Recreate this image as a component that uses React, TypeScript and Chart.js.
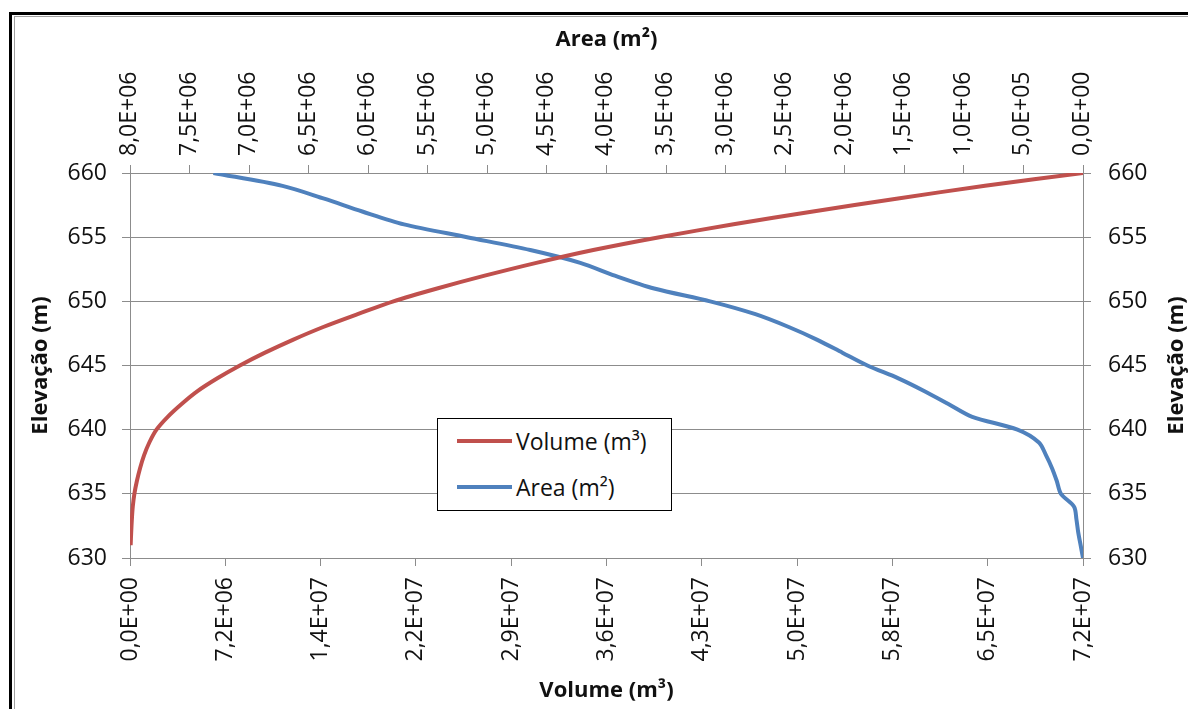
import React, { useEffect, useRef } from 'react';
import { Chart, registerables } from 'chart.js';
Chart.register(...registerables);

// ---- data ----
const areaElevations = [630, 631, 632, 633, 634, 635, 636, 637, 638, 639, 640, 641, 642, 643, 644, 645, 646, 647, 648, 649, 650, 651, 652, 653, 654, 655, 656, 657, 658, 659, 660];
const areaValues = [0, 0.02e6, 0.04e6, 0.055e6, 0.075e6, 0.185e6, 0.22e6, 0.26e6, 0.31e6, 0.37e6, 0.55e6, 0.93e6, 1.13e6, 1.33e6, 1.55e6, 1.81e6, 2.02e6, 2.23e6, 2.47e6, 2.75e6, 3.13e6, 3.6e6, 3.93e6, 4.22e6, 4.64e6, 5.17e6, 5.7e6, 6.05e6, 6.37e6, 6.72e6, 7.3e6];

const volumeElevations = [631, 632, 633, 634, 635, 636, 637, 638, 639, 640, 641, 642, 643, 644, 645, 646, 647, 648, 649, 650, 651, 652, 653, 654, 655, 656, 657, 658, 659, 660];
const volumeValues = [0.05e6, 0.09e6, 0.14e6, 0.21e6, 0.33e6, 0.52e6, 0.76e6, 1.06e6, 1.46e6, 2.0e6, 2.85e6, 3.9e6, 5.1e6, 6.6e6, 8.3e6, 10.2e6, 12.3e6, 14.6e6, 17.2e6, 19.9e6, 23.2e6, 26.8e6, 30.7e6, 35.0e6, 40.0e6, 45.6e6, 51.6e6, 57.9e6, 64.6e6, 72.0e6];

const elevationTicks = [630, 635, 640, 645, 650, 655, 660];
const volumeTicks = [0, 7.2e6, 1.44e7, 2.16e7, 2.88e7, 3.6e7, 4.32e7, 5.04e7, 5.76e7, 6.48e7, 7.2e7];
const areaTicks = [0, 5e5, 1e6, 1.5e6, 2e6, 2.5e6, 3e6, 3.5e6, 4e6, 4.5e6, 5e6, 5.5e6, 6e6, 6.5e6, 7e6, 7.5e6, 8e6];

const seriesLabels = ['Volume (m³)', 'Area (m²)'];
const seriesColors = ['#C0504D', '#4F81BD'];
const axisTitles = { volume: 'Volume (m³)', area: 'Area (m²)', elevation: 'Elevação (m)' };

function sci(v: number): string {
  if (Math.abs(v) < 1e-9) return '0,0E+00';
  let exp = Math.floor(Math.log10(Math.abs(v)) + 1e-9);
  let m = (v / Math.pow(10, exp)).toFixed(1);
  if (m === '10.0') { m = '1.0'; exp += 1; }
  return m.replace('.', ',') + 'E' + (exp < 0 ? '-' : '+') + String(Math.abs(exp)).padStart(2, '0');
}

const FONT = 'Open Sans';
const tickFont = { family: FONT, size: 23 };
const titleFont = { family: FONT, size: 22, weight: 'bold' as const };
const gridColor = '#8c8c8c';
const textColor = '#111';

const framePlugin = {
  id: 'frame',
  beforeDraw(chart: any) {
    const ctx = chart.ctx;
    ctx.save();
    ctx.fillStyle = '#fff';
    ctx.fillRect(0, 0, chart.width, chart.height);
    ctx.fillStyle = '#000';
    ctx.fillRect(9, 12, 3, chart.height - 12);
    ctx.fillRect(9, 12, chart.width - 9, 3);
    ctx.fillStyle = '#a0a0a0';
    ctx.fillRect(14, 16, 1, chart.height - 16);
    ctx.fillRect(14, 16, chart.width - 14, 1);
    ctx.restore();
  },
  afterDraw(chart: any) {
    // right-hand axis title, reading bottom-to-top like the left one
    const ctx = chart.ctx;
    const area = chart.chartArea;
    ctx.save();
    ctx.translate(1177, (area.top + area.bottom) / 2);
    ctx.rotate(-Math.PI / 2);
    ctx.font = `bold ${titleFont.size}px "${FONT}"`;
    ctx.fillStyle = textColor;
    ctx.textAlign = 'center';
    ctx.textBaseline = 'middle';
    ctx.fillText(axisTitles.elevation, 0, 0);
    ctx.restore();
  },
};

export default function App() {
  const ref = useRef<HTMLCanvasElement>(null);
  useEffect(() => {
    const chart = new Chart(ref.current!, {
      type: 'scatter',
      data: {
        datasets: [
          {
            label: seriesLabels[0],
            data: volumeValues.map((v, i) => ({ x: v, y: volumeElevations[i] })),
            xAxisID: 'x',
            yAxisID: 'y',
            showLine: true,
            borderColor: seriesColors[0],
            backgroundColor: seriesColors[0],
            borderWidth: 4,
            pointRadius: 0,
            tension: 0.3,
          },
          {
            label: seriesLabels[1],
            data: areaValues.map((v, i) => ({ x: v, y: areaElevations[i] })),
            xAxisID: 'x2',
            yAxisID: 'y',
            showLine: true,
            borderColor: seriesColors[1],
            backgroundColor: seriesColors[1],
            borderWidth: 4,
            pointRadius: 0,
            tension: 0.3,
          },
        ],
      },
      options: {
        responsive: false,
        animation: false,
        layout: { padding: { top: 16, left: 18, right: 0, bottom: 0 } },
        plugins: { legend: { display: false }, tooltip: { enabled: false } },
        scales: {
          x: {
            type: 'linear',
            position: 'bottom',
            min: 0,
            max: 7.2e7,
            afterBuildTicks: (s: any) => { s.ticks = volumeTicks.map((v) => ({ value: v })); },
            afterFit: (s: any) => { s.height = 151; },
            grid: { drawOnChartArea: false, drawTicks: true, tickLength: 8, color: gridColor },
            border: { color: gridColor },
            ticks: { minRotation: 90, maxRotation: 90, autoSkip: false, padding: 11, font: tickFont, color: textColor, callback: (v: any) => sci(Number(v)) },
            title: { display: true, text: axisTitles.volume, font: titleFont, color: textColor, padding: { top: 0, bottom: 5 } },
          },
          x2: {
            type: 'linear',
            position: 'top',
            reverse: true,
            min: 0,
            max: 8e6,
            afterBuildTicks: (s: any) => { s.ticks = areaTicks.map((v) => ({ value: v })); },
            afterFit: (s: any) => { s.height = 157; },
            grid: { drawOnChartArea: false, drawTicks: true, tickLength: 8, color: gridColor },
            border: { color: gridColor },
            ticks: { minRotation: 90, maxRotation: 90, autoSkip: false, padding: 9, labelOffset: 27, font: tickFont, color: textColor, callback: (v: any) => sci(Number(v)) },
            title: { display: true, text: axisTitles.area, font: titleFont, color: textColor, padding: { top: 11, bottom: 0 } },
          },
          y: {
            type: 'linear',
            position: 'left',
            min: 630,
            max: 660,
            afterBuildTicks: (s: any) => { s.ticks = elevationTicks.map((v) => ({ value: v })); },
            afterFit: (s: any) => { s.width = 112; },
            grid: { drawOnChartArea: true, drawTicks: true, tickLength: 8, color: gridColor },
            border: { color: gridColor },
            ticks: { padding: 15, font: tickFont, color: textColor },
            title: { display: true, text: axisTitles.elevation, font: titleFont, color: textColor, padding: { top: 10, bottom: 0 } },
          },
          y2: {
            type: 'linear',
            position: 'right',
            min: 630,
            max: 660,
            afterBuildTicks: (s: any) => { s.ticks = elevationTicks.map((v) => ({ value: v })); },
            afterFit: (s: any) => { s.width = 105; },
            grid: { drawOnChartArea: false, drawTicks: true, tickLength: 8, color: gridColor },
            border: { color: gridColor },
            ticks: { padding: 17, font: tickFont, color: textColor },
            title: { display: false },
          },
        },
      },
      plugins: [framePlugin],
    } as any);
    return () => chart.destroy();
  }, []);

  const legendText: React.CSSProperties = {
    position: 'absolute',
    left: 78,
    height: 30,
    lineHeight: '30px',
    fontFamily: FONT,
    fontSize: 23,
    color: textColor,
    whiteSpace: 'nowrap',
  };

  return (
    <div style={{ position: 'fixed', left: 0, top: 0, width: 1188, height: 709, background: '#fff', overflow: 'hidden' }}>
      <canvas ref={ref} width={1188} height={709} style={{ display: 'block' }} />
      <div style={{ position: 'absolute', left: 437, top: 418, width: 233, height: 91, border: '1px solid #000', background: '#fff' }}>
        <div style={{ position: 'absolute', left: 19, top: 20, width: 55, height: 4, background: seriesColors[0] }} />
        <div style={{ ...legendText, top: 7 }}>{seriesLabels[0]}</div>
        <div style={{ position: 'absolute', left: 19, top: 66, width: 55, height: 4, background: seriesColors[1] }} />
        <div style={{ ...legendText, top: 53 }}>{seriesLabels[1]}</div>
      </div>
    </div>
  );
}
